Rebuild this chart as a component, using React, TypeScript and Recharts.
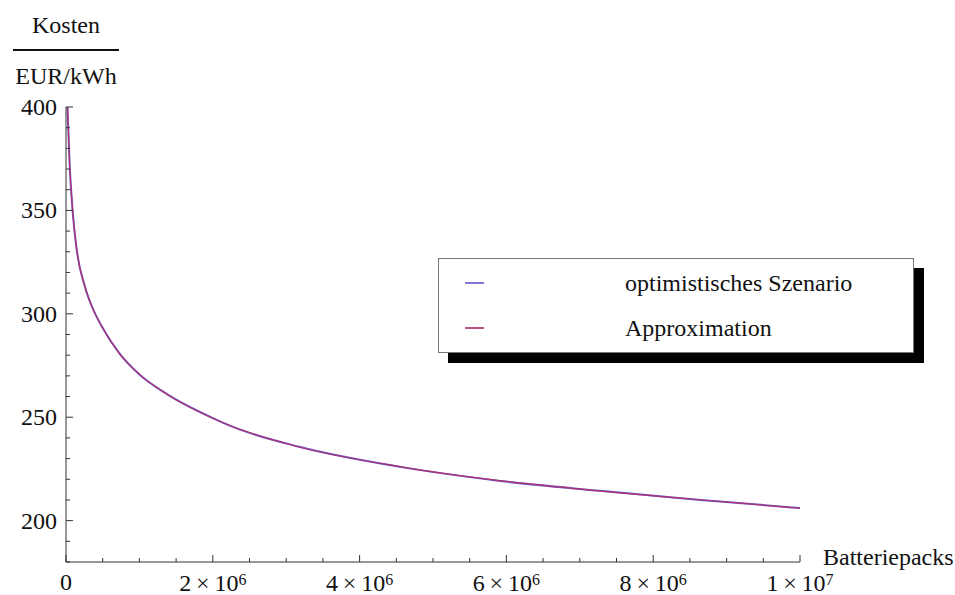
import { LineChart, Line, XAxis, YAxis, Legend } from "recharts";

// Batteriepacks (cumulative) vs. cost in EUR/kWh
const packs = [
  20000, 50000, 90000, 146000, 259000, 372000, 486000, 736000, 1008000,
  1376000, 2000000, 2275000, 3190000, 4550000, 5910000, 7280000, 8640000,
  10000000,
];
const optimistic = [
  400, 372, 350, 331, 313, 302, 294, 280.5, 270.4, 261.2, 249.6, 245.3, 235.6,
  226, 219.2, 214.4, 210, 206.1,
];
const approximation = [
  400, 371.8, 350.2, 331.1, 313.1, 301.9, 294.1, 280.4, 270.5, 261.1, 249.5,
  245.4, 235.5, 226.1, 219.3, 214.3, 210.1, 206,
];

const xTicks = [
  0, 500000, 1000000, 1500000, 2000000, 2500000, 3000000, 3500000, 4000000,
  4500000, 5000000, 5500000, 6000000, 6500000, 7000000, 7500000, 8000000,
  8500000, 9000000, 9500000, 10000000,
];
const yTicks = [
  180, 190, 200, 210, 220, 230, 240, 250, 260, 270, 280, 290, 300, 310, 320,
  330, 340, 350, 360, 370, 380, 390, 400,
];

const data = packs.map((x, i) => ({
  x,
  opt: optimistic[i],
  approx: approximation[i],
}));

const FONT = "'Liberation Serif', 'Times New Roman', serif";
const AXIS = "#333";
const BLUE = "#6b5fd0";
const MAGENTA = "#b0306e";
const legendOrder = ["opt", "approx"];

function XTick(props: any) {
  const { x, y, payload } = props;
  const v: number = payload.value;
  const major = v % 2000000 === 0;
  let label: any = null;
  if (major) {
    if (v === 0) {
      label = "0";
    } else {
      const exp = Math.floor(Math.log10(v) + 1e-9);
      const mant = Math.round(v / Math.pow(10, exp));
      label = (
        <>
          <tspan>{mant}{"\u2009×\u2009"}10</tspan>
          <tspan fontSize={16} dy={-6}>
            {exp}
          </tspan>
        </>
      );
    }
  }
  return (
    <g>
      <line x1={x} x2={x} y1={y} y2={y - (major ? 7 : 4)} stroke={AXIS} />
      {label && (
        <text
          x={x}
          y={y + (v === 0 ? 28 : 29)}
          textAnchor="middle"
          fontFamily={FONT}
          fontSize={24}
          fill="#111"
        >
          {label}
        </text>
      )}
    </g>
  );
}

function YTick(props: any) {
  const { x, y, payload } = props;
  const v: number = payload.value;
  const major = v % 50 === 0;
  return (
    <g>
      <line x1={x} x2={x + (major ? 7 : 4)} y1={y} y2={y} stroke={AXIS} />
      {major && (
        <text
          x={x - 9}
          y={y + 8}
          textAnchor="end"
          fontFamily={FONT}
          fontSize={24}
          fill="#111"
        >
          {v}
        </text>
      )}
    </g>
  );
}

function YLabel(props: any) {
  const { viewBox } = props;
  const cx = viewBox.x + viewBox.width;
  return (
    <g fontFamily={FONT} fontSize={24} fill="#111">
      <text x={cx} y={33} textAnchor="middle">
        Kosten
      </text>
      <line x1={13} x2={119} y1={50} y2={50} stroke="#111" strokeWidth={2} />
      <text x={cx} y={84} textAnchor="middle">
        EUR/kWh
      </text>
    </g>
  );
}

function XLabel(props: any) {
  const { viewBox } = props;
  return (
    <text
      x={viewBox.x + viewBox.width + 23}
      y={viewBox.y + 3}
      fontFamily={FONT}
      fontSize={24}
      fill="#111"
    >
      Batteriepacks
    </text>
  );
}

function LegendBox(props: any) {
  const payload: any[] = props.payload || [];
  const items = legendOrder
    .map((k) => payload.find((p: any) => p.dataKey === k))
    .filter(Boolean);
  return (
    <div
      style={{
        width: 474,
        height: 93,
        background: "#fff",
        border: "1px solid #777",
        boxShadow: "10px 10px 0 #000",
        fontFamily: FONT,
        fontSize: 24,
        color: "#111",
        position: "relative",
      }}
    >
      {items.map((p: any, i: number) => (
        <div
          key={p.value}
          style={{
            position: "absolute",
            left: 0,
            top: 10 + i * 45,
            height: 28,
            width: "100%",
          }}
        >
          <div
            style={{
              position: "absolute",
              left: 26,
              top: 13,
              width: 19,
              height: 2,
              background: p.dataKey === "opt" ? BLUE : MAGENTA,
              opacity: 0.85,
            }}
          />
          <span
            style={{ position: "absolute", left: 186, top: 0, lineHeight: "28px" }}
          >
            {p.value}
          </span>
        </div>
      ))}
    </div>
  );
}

export default function App() {
  return (
    <div style={{ position: "absolute", left: 0, top: 0, background: "#fff" }}>
      <LineChart
        width={955}
        height={595}
        data={data}
        margin={{ top: 107, right: 155, bottom: 0, left: 0 }}
      >
        <XAxis
          type="number"
          dataKey="x"
          domain={[0, 10000000]}
          ticks={xTicks}
          interval={0}
          height={33}
          tickSize={0}
          tickMargin={0}
          tickLine={false}
          axisLine={{ stroke: AXIS }}
          tick={XTick}
          label={<XLabel />}
        />
        <YAxis
          type="number"
          domain={[180, 400]}
          ticks={yTicks}
          interval={0}
          width={66}
          tickSize={0}
          tickMargin={0}
          tickLine={false}
          axisLine={{ stroke: AXIS }}
          tick={YTick}
          label={<YLabel />}
        />
        <Legend
          layout="horizontal"
          verticalAlign="middle"
          align="center"
          content={<LegendBox />}
          wrapperStyle={{ left: 438, top: 258, width: 476, height: 95 }}
        />
        <Line
          name="optimistisches Szenario"
          type="monotone"
          dataKey="opt"
          stroke={BLUE}
          strokeWidth={2}
          dot={false}
          isAnimationActive={false}
        />
        <Line
          name="Approximation"
          type="monotone"
          dataKey="approx"
          stroke={MAGENTA}
          strokeWidth={1.2}
          dot={false}
          isAnimationActive={false}
        />
      </LineChart>
    </div>
  );
}
